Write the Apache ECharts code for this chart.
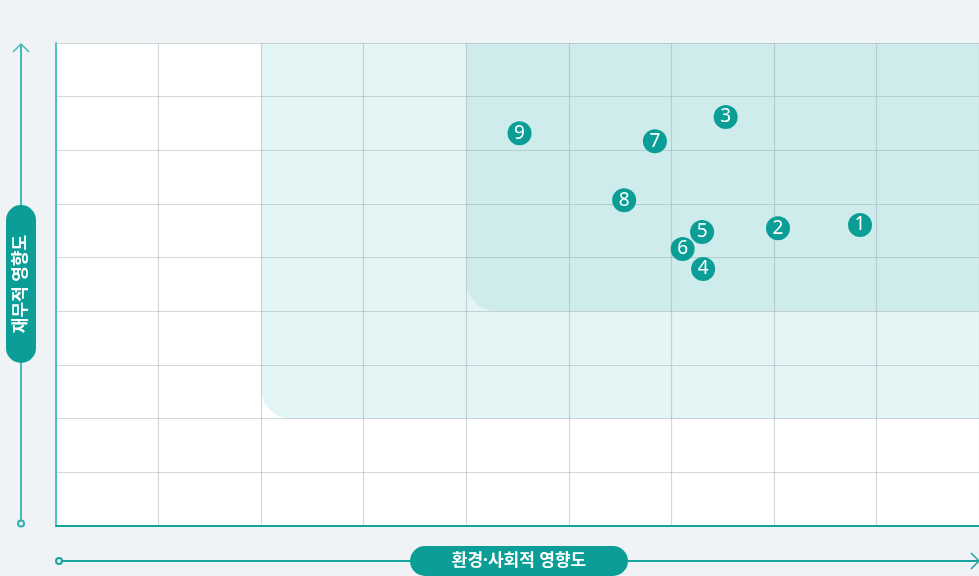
<!DOCTYPE html>
<html><head><meta charset="utf-8">
<script src="https://cdn.jsdelivr.net/npm/echarts@6/dist/echarts.min.js"></script>
<style>html,body{margin:0;padding:0;background:#eff3f6;}#c{width:979px;height:576px;}</style>
</head><body><div id="c"></div>
<script>
// data
var labels = ['1','2','3','4','5','6','7','8','9'];
var xValues = [7.84, 7.04, 6.53, 6.31, 6.30, 6.11, 5.84, 5.54, 4.52];
var yValues = [5.61, 5.55, 7.62, 4.79, 5.48, 5.16, 7.17, 6.07, 7.32];
var zoneXStart = [2, 4];
var zoneYStart = [2, 4];
var zoneColors = ['#e4f5f5', '#cfeced'];
var axisMin = 0, axisMax = 9;
var xTitle = '환경·사회적 영향도';
var yTitle = '재무적 영향도';

var FONT = '"Noto Sans", "Noto Sans CJK KR", sans-serif';
var TEAL = '#0a9e97';
var chart = echarts.init(document.getElementById('c'), null, {renderer: 'canvas'});

var pts = labels.map(function (l, i) { return [xValues[i], yValues[i], l]; });
var zones = zoneXStart.map(function (x, i) { return [x, zoneYStart[i], i]; });
var gridLine = { color: 'rgba(150,162,170,0.42)', width: 1.2 };

chart.setOption({
  backgroundColor: '#eff3f6',
  animation: false,
  grid: { left: 56, top: 43, width: 925, height: 483, show: true, backgroundColor: '#ffffff', borderWidth: 0, z: -5 },
  xAxis: {
    type: 'value', min: axisMin, max: axisMax, interval: 1,
    axisLine: { show: true, onZero: false, lineStyle: { color: '#12a39c', width: 2 } },
    axisTick: { show: false }, axisLabel: { show: false },
    splitLine: { show: true, lineStyle: gridLine }
  },
  yAxis: {
    type: 'value', min: axisMin, max: axisMax, interval: 1,
    axisLine: { show: true, onZero: false, lineStyle: { color: '#55c0c0', width: 2 } },
    axisTick: { show: false }, axisLabel: { show: false },
    splitLine: { show: true, lineStyle: gridLine }
  },
  series: [
    {
      type: 'custom', z: -1, silent: true,
      data: zones,
      renderItem: function (params, api) {
        var p0 = api.coord([api.value(0), axisMax]);
        var p1 = api.coord([axisMax, api.value(1)]);
        var idx = api.value(2);
        return {
          type: 'rect',
          shape: { x: p0[0], y: p0[1], width: p1[0] - p0[0], height: p1[1] - p0[1], r: [0, 0, 0, 30] },
          style: { fill: zoneColors[idx] }
        };
      }
    },
    {
      type: 'scatter', z: 5,
      data: pts,
      symbol: 'circle', symbolSize: 24,
      itemStyle: { color: TEAL, opacity: 1 },
      label: {
        show: true, position: 'inside',
        formatter: function (p) { return p.value[2]; },
        color: '#ffffff', fontSize: 19, fontFamily: FONT
      }
    }
  ],
  graphic: [
    // y axis arrow
    { type: 'line', shape: { x1: 21, y1: 44, x2: 21, y2: 520 }, style: { stroke: '#45b9b8', lineWidth: 2 } },
    { type: 'polyline', shape: { points: [[13, 52], [21, 44], [29, 52]] }, style: { stroke: '#45b9b8', lineWidth: 1.5, fill: null } },
    { type: 'circle', shape: { cx: 21, cy: 523.5, r: 3 }, style: { stroke: '#2fb1ae', lineWidth: 2, fill: '#eff3f6' } },
    // x axis arrow
    { type: 'line', shape: { x1: 62, y1: 561, x2: 979, y2: 561 }, style: { stroke: '#1aa6a0', lineWidth: 2 } },
    { type: 'polyline', shape: { points: [[971, 553], [979, 561], [971, 569]] }, style: { stroke: '#1aa6a0', lineWidth: 1.5, fill: null } },
    { type: 'circle', shape: { cx: 59, cy: 561, r: 3 }, style: { stroke: '#1aa6a0', lineWidth: 2, fill: '#eff3f6' } },
    // y pill
    { type: 'rect', shape: { x: 6, y: 205, width: 30, height: 158, r: 15 }, style: { fill: TEAL }, z: 10 },
    { type: 'text', x: 21, y: 284, rotation: Math.PI / 2, z: 11,
      style: { text: yTitle, fill: '#ffffff', font: 'bold 17px ' + FONT, textAlign: 'center', textVerticalAlign: 'middle' } },
    // x pill
    { type: 'rect', shape: { x: 410, y: 546, width: 218, height: 30, r: 15 }, style: { fill: TEAL }, z: 10 },
    { type: 'text', x: 519, y: 561, z: 11,
      style: { text: xTitle, fill: '#ffffff', font: 'bold 17px ' + FONT, textAlign: 'center', textVerticalAlign: 'middle' } }
  ]
});
</script></body></html>
